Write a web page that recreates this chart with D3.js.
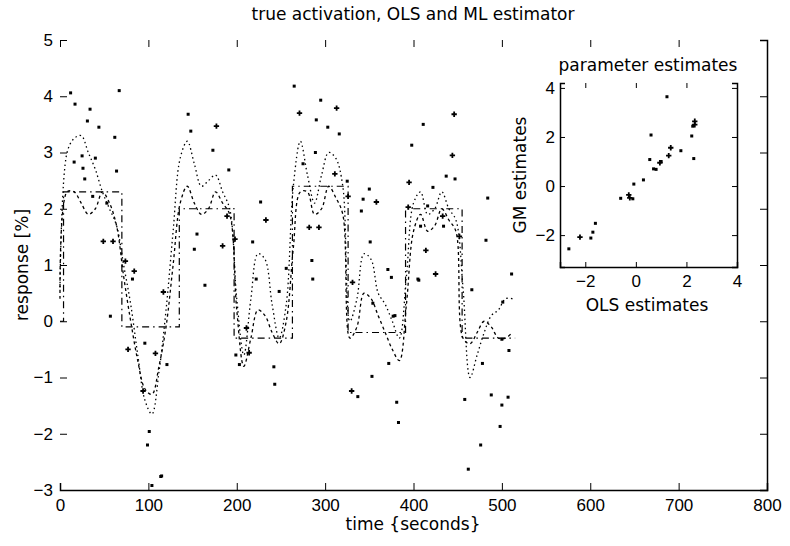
<!DOCTYPE html>
<html>
<head>
<meta charset="utf-8">
<script src="https://cdn.jsdelivr.net/npm/d3@7"></script>
<style>
  body { margin: 0; background: #fff; }
  svg { font-family: "DejaVu Sans", sans-serif; }
</style>
</head>
<body>
<div id="chart"></div>
<script>
// curve sample times (seconds)
var curveTime = [0, 8, 16, 24, 32, 40, 48, 56, 64, 72, 80, 88, 96, 104, 112, 120, 128, 136, 144, 152,
  160, 168, 176, 184, 192, 200, 208, 216, 224, 232, 240, 248, 256, 264, 272, 280, 288, 296, 304, 312,
  320, 328, 336, 344, 352, 360, 368, 376, 384, 392, 400, 408, 416, 424, 432, 440, 448, 456, 464, 472,
  480, 488, 496, 504, 512];
var olsFit = [0.6, 3.0, 3.25, 3.3, 3.0, 2.7, 2.3, 2.0, 1.7, 1.0, 0.3, -0.6, -1.4, -1.65, -0.9, 0.2, 1.6, 2.9, 3.2, 2.8,
  2.4, 2.5, 2.6, 2.3, 2.0, 0.4, -0.6, 0.4, 1.2, 1.1, 0.3, -0.3, 0.3, 2.4, 3.2, 2.6, 2.1, 2.6, 3.0, 2.9,
  2.4, 0.0, 0.4, 1.2, 1.1, 0.5, 0.3, 0.0, -0.3, 0.8, 2.1, 2.3, 1.9, 2.0, 2.3, 2.0, 1.8, 0.6, -1.0, -0.6,
  -0.2, 0.1, 0.2, 0.4, 0.4];
var mlFit = [0.4, 2.3, 2.3, 2.1, 1.9, 2.0, 2.3, 2.1, 1.7, 0.8, 0.0, -0.7, -1.2, -1.3, -0.8, -0.1, 1.0, 2.1, 2.4, 2.1,
  1.9, 2.0, 2.3, 2.1, 1.9, 0.2, -0.8, -0.3, 0.2, 0.1, -0.2, -0.4, 0.0, 1.3, 2.3, 2.3, 1.9, 2.0, 2.4, 2.2,
  1.9, -0.3, -0.1, 0.5, 0.4, 0.1, -0.2, -0.5, -0.7, 0.3, 1.6, 1.9, 1.6, 1.7, 2.0, 1.8, 1.6, -0.3, -0.4, -0.2,
  0.0, -0.1, -0.3, -0.3, -0.2];

// true activation (block design, corners)
var trueTime = [0, 4, 4, 70, 70, 135, 135, 197, 197, 263, 263, 326, 326, 391, 391, 455, 455, 515];
var trueAct = [0, 0, 2.3, 2.3, -0.1, -0.1, 2.0, 2.0, -0.3, -0.3, 2.4, 2.4, -0.2, -0.2, 2.0, 2.0, -0.3, -0.3];

// measured responses, dot markers
var dotTime = [12, 34, 31, 44, 62, 25, 40, 16, 64, 28, 37, 53, 82, 121, 96, 145, 148, 173, 191, 155,
  152, 164, 227, 199, 203, 242, 248, 222, 218, 265, 295, 290, 303, 316, 289, 275, 325, 343, 350, 285,
  341, 351, 375, 354, 372, 371, 101, 115, 243, 337, 383, 398, 411, 422, 447, 437, 484, 482, 408, 405,
  377, 511, 379, 353, 501, 508, 500, 488, 500, 476, 462, 458, 478, 466, 406, 416, 434, 26, 67, 17,
  99, 104, 381, 507, 498, 256, 286, 57, 114];
var dotResp = [4.06, 3.77, 3.56, 3.45, 3.27, 2.94, 2.9, 2.83, 2.67, 2.53, 2.22, 2.1, 0.75, -0.77, -0.39, 3.68, 3.38, 3.04, 2.69, 1.55,
  1.28, 0.64, 2.12, -0.6, -0.77, -0.81, 0.53, 0.75, 1.41, 4.18, 3.93, 3.58, 3.45, 3.33, 3.0, 2.8, 2.49, 2.17, 2.35, 1.08,
  1.96, 1.41, 0.78, 0.32, -0.75, 0.92, -1.96, -2.75, -1.12, -1.34, -1.8, 3.13, 3.5, 2.38, 2.53, 2.58, 2.19, 1.44, 1.69, 0.75,
  0.09, 0.84, 0.1, -0.98, 0.34, -0.52, -0.32, -1.31, -1.49, -2.2, -2.63, -1.39, -0.75, 0.56, 0.73, 2.05, 1.69, 2.72, 4.1, 3.86,
  -2.2, -2.92, -1.44, -1.35, -1.87, 0.94, 0.75, 0.09, -2.76];

// measured responses, plus markers
var plusTime = [49, 60, 74, 84, 117, 108, 77, 177, 184, 198, 233, 189, 214, 211, 271, 313, 326, 282, 293, 331,
  311, 358, 330, 446, 444, 395, 452, 414, 425, 394, 433, 94];
var plusResp = [1.42, 1.42, 1.07, 0.89, 0.52, -0.57, -0.5, 3.47, 1.34, 1.46, 1.8, 1.87, -0.56, -0.12, 3.7, 3.79, 2.22, 1.67, 1.67, 0.69,
  2.62, 2.12, -1.24, 3.68, 2.95, 2.47, 1.51, 1.26, 0.84, 2.03, 1.87, -1.24];

// inset: parameter estimates
var insetOlsDot = [1.23, 2.25, 2.21, 2.29, 0.6, 1.78, 1.0, 0.55, 0.8, 0.3, -0.08, -0.6, -0.12, -1.6, -1.7, -1.78, -2.65, 0.7];
var insetGmDot = [3.64, 2.44, 2.04, 1.12, 2.08, 1.44, 1.0, 1.08, 0.68, 0.25, 0.08, -0.5, -0.52, -1.52, -1.88, -2.12, -2.56, 0.7];
var insetOlsPlus = [2.33, 2.33, 1.38, 1.3, -0.28, -0.24, -2.21, 0.95];
var insetGmPlus = [2.64, 2.5, 1.56, 1.24, -0.36, -0.48, -2.08, 0.95];

var xTicks = [0, 100, 200, 300, 400, 500, 600, 700, 800];
var yTicks = [-3, -2, -1, 0, 1, 2, 3, 4, 5];
var insetTicks = [-2, 0, 2, 4];

var width = 790, height = 546;
var svg = d3.select('#chart').append('svg')
  .attr('width', width)
  .attr('height', height)
  .style('background', '#fff');

var x = d3.scaleLinear().domain([0, 800]).range([60, 767]);
var y = d3.scaleLinear().domain([-3, 5]).range([490, 40]);

// axes, MATLAB style ticks inside
svg.append('g').attr('transform', 'translate(0,490)')
  .call(d3.axisBottom(x).tickValues(xTicks).tickSize(-7).tickPadding(9).tickFormat(d3.format('d')))
  .call(function (g) { g.select('.domain').attr('stroke-width', 1.5); });
svg.append('g').attr('transform', 'translate(0,40)')
  .call(d3.axisTop(x).tickValues(xTicks).tickSize(-7).tickFormat(''))
  .call(function (g) { g.select('.domain').remove(); });
svg.append('g').attr('transform', 'translate(60,0)')
  .call(d3.axisLeft(y).tickValues(yTicks).tickSize(-7).tickPadding(7).tickFormat(d3.format('d')))
  .call(function (g) { g.select('.domain').remove(); });
svg.append('g').attr('transform', 'translate(767,0)')
  .call(d3.axisRight(y).tickValues(yTicks).tickSize(-7).tickFormat(''))
  .call(function (g) { g.select('.domain').attr('stroke-width', 1.5); });

svg.selectAll('.tick text').attr('font-size', 17).attr('fill', '#000');
svg.selectAll('.tick line').attr('stroke', '#000');

// lines
var fitLine = d3.line().x(function (d) { return x(d[0]); }).y(function (d) { return y(d[1]); })
  .curve(d3.curveCatmullRom);
var olsPts = curveTime.map(function (t, i) { return [t, olsFit[i]]; });
var mlPts = curveTime.map(function (t, i) { return [t, mlFit[i]]; });
var truePts = trueTime.map(function (t, i) { return [t, trueAct[i]]; });

svg.append('path').datum(truePts)
  .attr('d', d3.line().x(function (d) { return x(d[0]); }).y(function (d) { return y(d[1]); }))
  .attr('fill', 'none').attr('stroke', '#000').attr('stroke-width', 1.2)
  .attr('stroke-dasharray', '7,4,1.5,4');
svg.append('path').datum(olsPts)
  .attr('d', fitLine)
  .attr('fill', 'none').attr('stroke', '#000').attr('stroke-width', 1.3)
  .attr('stroke-dasharray', '1.5,3');
svg.append('path').datum(mlPts)
  .attr('d', fitLine)
  .attr('fill', 'none').attr('stroke', '#000').attr('stroke-width', 1.3)
  .attr('stroke-dasharray', '3,3');

// data markers
var dots = dotTime.map(function (t, i) { return [t, dotResp[i]]; });
svg.selectAll('rect.dot').data(dots).enter().append('rect')
  .attr('class', 'dot')
  .attr('x', function (d) { return x(d[0]) - 1.5; })
  .attr('y', function (d) { return y(d[1]) - 1.5; })
  .attr('width', 3).attr('height', 3).attr('fill', '#000');

var plusSym = d3.symbol().type(d3.symbolCross).size(16);
var pluses = plusTime.map(function (t, i) { return [t, plusResp[i]]; });
svg.selectAll('path.plus').data(pluses).enter().append('path')
  .attr('class', 'plus')
  .attr('transform', function (d) { return 'translate(' + x(d[0]) + ',' + y(d[1]) + ')'; })
  .attr('d', plusSym).attr('fill', '#000');

// labels
svg.append('text').attr('x', 413).attr('y', 20).attr('text-anchor', 'middle')
  .attr('font-size', 17).text('true activation, OLS and ML estimator');
svg.append('text').attr('x', 413).attr('y', 530).attr('text-anchor', 'middle')
  .attr('font-size', 17).text('time {seconds}');
svg.append('text').attr('transform', 'translate(28,265) rotate(-90)').attr('text-anchor', 'middle')
  .attr('font-size', 17).text('response [%]');

// inset
var ix = d3.scaleLinear().domain([-3, 4]).range([560, 737]);
var iy = d3.scaleLinear().domain([-3.3, 4.2]).range([267, 83]);
var inset = svg.append('g');
inset.append('rect').attr('x', 560).attr('y', 83).attr('width', 177).attr('height', 184).attr('fill', '#fff');

inset.append('g').attr('transform', 'translate(0,267)')
  .call(d3.axisBottom(ix).tickValues(insetTicks).tickSize(-5).tickPadding(8).tickFormat(d3.format('d')))
  .call(function (g) { g.select('.domain').attr('stroke-width', 1.5); });
inset.append('g').attr('transform', 'translate(560,0)')
  .call(d3.axisLeft(iy).tickValues(insetTicks).tickSize(-5).tickPadding(5).tickFormat(d3.format('d')))
  .call(function (g) { g.select('.domain').attr('stroke-width', 1.5); });
inset.append('g').attr('transform', 'translate(737,0)')
  .call(d3.axisRight(iy).tickValues(insetTicks).tickSize(-5).tickFormat(''))
  .call(function (g) { g.select('.domain').attr('stroke-width', 1.5); });
inset.append('g').attr('transform', 'translate(0,83)')
  .call(d3.axisTop(ix).tickValues(insetTicks).tickSize(-5).tickFormat(''))
  .call(function (g) { g.select('.domain').remove(); });
inset.selectAll('.tick text').attr('font-size', 17).attr('fill', '#000');

var iDots = insetOlsDot.map(function (v, i) { return [v, insetGmDot[i]]; });
inset.selectAll('rect.idot').data(iDots).enter().append('rect')
  .attr('class', 'idot')
  .attr('x', function (d) { return ix(d[0]) - 1.5; })
  .attr('y', function (d) { return iy(d[1]) - 1.5; })
  .attr('width', 3).attr('height', 3).attr('fill', '#000');
var iPlus = insetOlsPlus.map(function (v, i) { return [v, insetGmPlus[i]]; });
inset.selectAll('path.iplus').data(iPlus).enter().append('path')
  .attr('class', 'iplus')
  .attr('transform', function (d) { return 'translate(' + ix(d[0]) + ',' + iy(d[1]) + ')'; })
  .attr('d', plusSym).attr('fill', '#000');

inset.append('text').attr('x', 648).attr('y', 71).attr('text-anchor', 'middle')
  .attr('font-size', 17).text('parameter estimates');
inset.append('text').attr('x', 647).attr('y', 311).attr('text-anchor', 'middle')
  .attr('font-size', 17).text('OLS estimates');
inset.append('text').attr('transform', 'translate(526,175) rotate(-90)').attr('text-anchor', 'middle')
  .attr('font-size', 17).text('GM estimates');
</script>
</body>
</html>
